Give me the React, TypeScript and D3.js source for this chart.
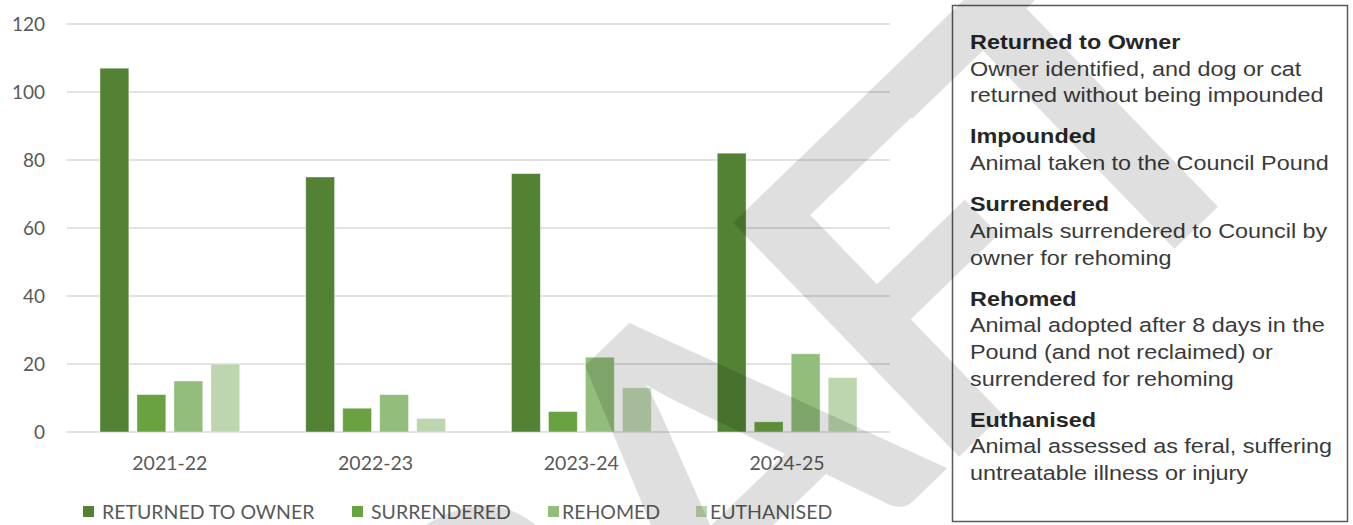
import React, { useEffect, useRef } from 'react';
import * as d3 from 'd3';

const CATEGORIES = ['2021-22', '2022-23', '2023-24', '2024-25'];
const SERIES = ['RETURNED TO OWNER', 'SURRENDERED', 'REHOMED', 'EUTHANISED'];
const RETURNED = [107, 75, 76, 82];
const SURRENDERED = [11, 7, 6, 3];
const REHOMED = [15, 11, 22, 23];
const EUTHANISED = [20, 4, 13, 16];
const Y_TICKS = [0, 20, 40, 60, 80, 100, 120];

const COLORS = ['#548235', '#6aa242', '#92bd7a', '#bed6b0'];

const NOTES = [
  { title: 'Returned to Owner', lines: ['Owner identified, and dog or cat', 'returned without being impounded'] },
  { title: 'Impounded', lines: ['Animal taken to the Council Pound'] },
  { title: 'Surrendered', lines: ['Animals surrendered to Council by', 'owner for rehoming'] },
  { title: 'Rehomed', lines: ['Animal adopted after 8 days in the', 'Pound (and not reclaimed) or', 'surrendered for rehoming'] },
  { title: 'Euthanised', lines: ['Animal assessed as feral, suffering', 'untreatable illness or injury'] },
];

// watermark letters and their advance widths (em)
const WATERMARK = ['D', 'R', 'A', 'F', 'T'];
const WATERMARK_ADV = [0.63, 0.563, 0.606, 0.459, 0.495];

const WIDTH = 1353;
const HEIGHT = 525;

export default function App() {
  const svgRef = useRef<SVGSVGElement>(null);

  useEffect(() => {
    if (!svgRef.current) return;
    const svg = d3.select(svgRef.current);
    svg.selectAll('*').remove();

    const values = [RETURNED, SURRENDERED, REHOMED, EUTHANISED];
    const plot = { left: 67, right: 890, top: 24, bottom: 432 };
    const font = 'Lato, "Open Sans", sans-serif';

    const x0 = d3.scaleBand().domain(CATEGORIES).range([plot.left, plot.right]);
    const x1 = d3
      .scaleBand()
      .domain(SERIES)
      .range([33, x0.bandwidth() - 33])
      .paddingInner(0.22);
    const y = d3.scaleLinear().domain([0, 120]).range([plot.bottom, plot.top]);

    // gridlines
    svg
      .append('g')
      .selectAll('line')
      .data(Y_TICKS)
      .join('line')
      .attr('x1', plot.left)
      .attr('x2', plot.right)
      .attr('y1', (d) => y(d))
      .attr('y2', (d) => y(d))
      .attr('stroke', '#d9d9d9')
      .attr('stroke-width', 1.3);

    svg
      .append('g')
      .selectAll('text')
      .data(Y_TICKS)
      .join('text')
      .attr('x', 45)
      .attr('y', (d) => y(d))
      .attr('dy', '0.35em')
      .attr('text-anchor', 'end')
      .attr('fill', '#595959')
      .attr('font-family', font)
      .attr('font-size', '19px')
      .text((d) => d);

    // bars
    const groups = svg
      .append('g')
      .selectAll('g')
      .data(CATEGORIES)
      .join('g')
      .attr('transform', (d) => `translate(${x0(d)},0)`);

    groups
      .selectAll('rect')
      .data((_, i) => SERIES.map((s, j) => ({ s, v: values[j][i], j })))
      .join('rect')
      .attr('x', (d) => x1(d.s) as number)
      .attr('width', x1.bandwidth())
      .attr('y', (d) => y(d.v))
      .attr('height', (d) => y(0) - y(d.v))
      .attr('fill', (d) => COLORS[d.j])
      .attr('stroke', '#ffffff')
      .attr('stroke-opacity', 0.5)
      .attr('stroke-width', 0.8);

    svg
      .append('g')
      .selectAll('text')
      .data(CATEGORIES)
      .join('text')
      .attr('x', (d) => (x0(d) as number) + x0.bandwidth() / 2)
      .attr('y', 463)
      .attr('dy', '0.35em')
      .attr('text-anchor', 'middle')
      .attr('fill', '#595959')
      .attr('font-family', font)
      .attr('font-size', '19.5px')
      .text((d) => d);

    // legend
    const legendX = [83, 352, 548, 696];
    const legend = svg
      .append('g')
      .selectAll('g')
      .data(SERIES)
      .join('g')
      .attr('transform', (_, i) => `translate(${legendX[i]},512)`);
    legend
      .append('rect')
      .attr('x', 0)
      .attr('y', -6)
      .attr('width', 11)
      .attr('height', 11)
      .attr('fill', (_, i) => COLORS[i]);
    legend
      .append('text')
      .attr('x', (_, i) => (i < 2 ? 19 : 14))
      .attr('y', 0)
      .attr('dy', '0.35em')
      .attr('fill', '#595959')
      .attr('font-family', font)
      .attr('font-size', '19.5px')
      .text((d) => d);

    // notes box
    svg
      .append('rect')
      .attr('x', 952.5)
      .attr('y', 5.5)
      .attr('width', 395)
      .attr('height', 516)
      .attr('fill', 'none')
      .attr('stroke', '#595959')
      .attr('stroke-width', 1.5);

    const notes = svg.append('g').attr('font-family', '"Liberation Sans", Arial, sans-serif');
    let yy = 49;
    const addLine = (txt: string, bold: boolean) => {
      notes
        .append('text')
        .attr('transform', `translate(970,${yy}) scale(1.2,1)`)
        .attr('font-size', '19.5px')
        .attr('font-weight', bold ? 'bold' : 'normal')
        .attr('fill', bold ? '#262626' : '#3a3a3a')
        .text(txt);
    };
    NOTES.forEach((n) => {
      addLine(n.title, true);
      n.lines.forEach((l) => {
        yy += 26.7;
        addLine(l, false);
      });
      yy += 41;
    });

    // watermark, one letter at a time along a rotated baseline
    const angle = (44 * Math.PI) / 180;
    const tx = Math.cos(angle);
    const ty = -Math.sin(angle);
    const em = 500;
    const start = [295, 1098];
    let acc = 0;
    const wm = svg.append('g').attr('fill', '#000000').attr('opacity', 0.12);
    WATERMARK.forEach((ch, i) => {
      const c = (acc + WATERMARK_ADV[i] / 2) * em;
      acc += WATERMARK_ADV[i];
      wm.append('text')
        .attr('transform', `translate(${start[0] + c * tx},${start[1] + c * ty}) rotate(-44)`)
        .attr('text-anchor', 'middle')
        .attr('font-family', 'Lato, sans-serif')
        .attr('font-weight', 'bold')
        .attr('font-size', '450px')
        .text(ch);
    });
  }, []);

  return (
    <div style={{ position: 'fixed', left: 0, top: 0, background: '#ffffff' }}>
      <svg ref={svgRef} width={WIDTH} height={HEIGHT} style={{ display: 'block' }} />
    </div>
  );
}
